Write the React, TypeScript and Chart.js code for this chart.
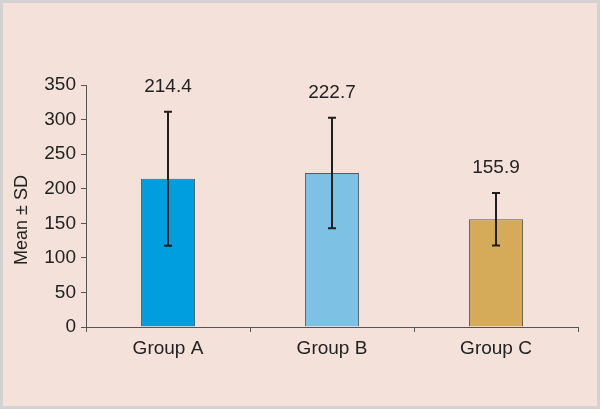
import React, { useEffect, useRef } from "react";
import { Chart, registerables } from "chart.js";

Chart.register(...registerables);

const categories = ["Group A", "Group B", "Group C"];
const means = [214.4, 222.7, 155.9];
const sds = [97, 80, 38];
const barColors = ["#009DDF", "#7DC1E4", "#D5AB5A"];
const yTicks = [0, 50, 100, 150, 200, 250, 300, 350];
const yTitle = "Mean ± SD";

const FONT = "'Liberation Sans', Arial, sans-serif";

const bgPlugin = {
  id: "bgPlugin",
  beforeDraw(chart: any) {
    const { ctx, width, height } = chart;
    ctx.save();
    ctx.fillStyle = "#F4E2DA";
    ctx.fillRect(0, 0, width, height);
    ctx.strokeStyle = "#D4D2D0";
    ctx.lineWidth = 3;
    ctx.strokeRect(1.5, 1.5, width - 3, height - 3);
    ctx.restore();
  },
  afterDraw(chart: any) {
    const { ctx, chartArea } = chart;
    ctx.save();
    ctx.translate(chartArea.left - 64, (chartArea.top + chartArea.bottom) / 2 + 14);
    ctx.rotate(-Math.PI / 2);
    ctx.fillStyle = "#222";
    ctx.font = `18px ${FONT}`;
    ctx.textAlign = "center";
    ctx.textBaseline = "middle";
    ctx.fillText(yTitle, 0, 0);
    ctx.restore();
  },
};

const errorPlugin = {
  id: "errorPlugin",
  afterDatasetsDraw(chart: any) {
    const { ctx } = chart;
    const yScale = chart.scales.y;
    const meta = chart.getDatasetMeta(0);
    ctx.save();
    meta.data.forEach((bar: any, i: number) => {
      const x = Math.round(bar.x);
      const top = yScale.getPixelForValue(means[i] + sds[i]);
      const bot = yScale.getPixelForValue(means[i] - sds[i]);
      ctx.strokeStyle = "#1E1E1E";
      ctx.lineWidth = 2;
      ctx.beginPath();
      ctx.moveTo(x, top);
      ctx.lineTo(x, bot);
      ctx.moveTo(x - 4, top);
      ctx.lineTo(x + 4, top);
      ctx.moveTo(x - 4, bot);
      ctx.lineTo(x + 4, bot);
      ctx.stroke();
      ctx.fillStyle = "#222";
      ctx.font = `19px ${FONT}`;
      ctx.textAlign = "center";
      ctx.textBaseline = "middle";
      ctx.fillText(means[i].toFixed(1), x, top - 25);
    });
    ctx.restore();
  },
};

export default function App() {
  const ref = useRef<HTMLCanvasElement | null>(null);
  useEffect(() => {
    if (!ref.current) return;
    const chart = new Chart(ref.current, {
      type: "bar",
      data: {
        labels: categories,
        datasets: [
          {
            data: means,
            backgroundColor: barColors,
            borderColor: "#5A5A5A",
            borderWidth: 1,
            barPercentage: 0.33,
            categoryPercentage: 1,
          },
        ],
      },
      options: {
        animation: false,
        responsive: false,
        maintainAspectRatio: false,
        layout: { padding: { left: 8, right: 22, top: 85, bottom: 30 } },
        plugins: { legend: { display: false }, tooltip: { enabled: false } },
        scales: {
          x: {
            offset: true,
            grid: {
              offset: true,
              drawOnChartArea: false,
              drawTicks: true,
              tickLength: 5,
              color: "#555",
            },
            border: { color: "#555", width: 1 },
            ticks: { color: "#222", font: { family: FONT, size: 19 }, padding: 5 },
            afterFit: (s: any) => {
              s.height = 52;
            },
          },
          y: {
            min: 0,
            max: 350,
            afterBuildTicks: (s: any) => {
              s.ticks = yTicks.map((v) => ({ value: v }));
            },
            grid: { drawOnChartArea: false, drawTicks: true, tickLength: 5, color: "#555" },
            border: { color: "#555", width: 1 },
            ticks: { color: "#222", font: { family: FONT, size: 19 }, padding: 5 },
            afterFit: (s: any) => {
              s.width = 78;
            },
          },
        },
      },
      plugins: [bgPlugin, errorPlugin],
    });
    return () => chart.destroy();
  }, []);
  return (
    <div style={{ position: "fixed", left: 0, top: 0, width: 600, height: 409 }}>
      <canvas ref={ref} width={600} height={409} style={{ width: 600, height: 409, display: "block" }} />
    </div>
  );
}
